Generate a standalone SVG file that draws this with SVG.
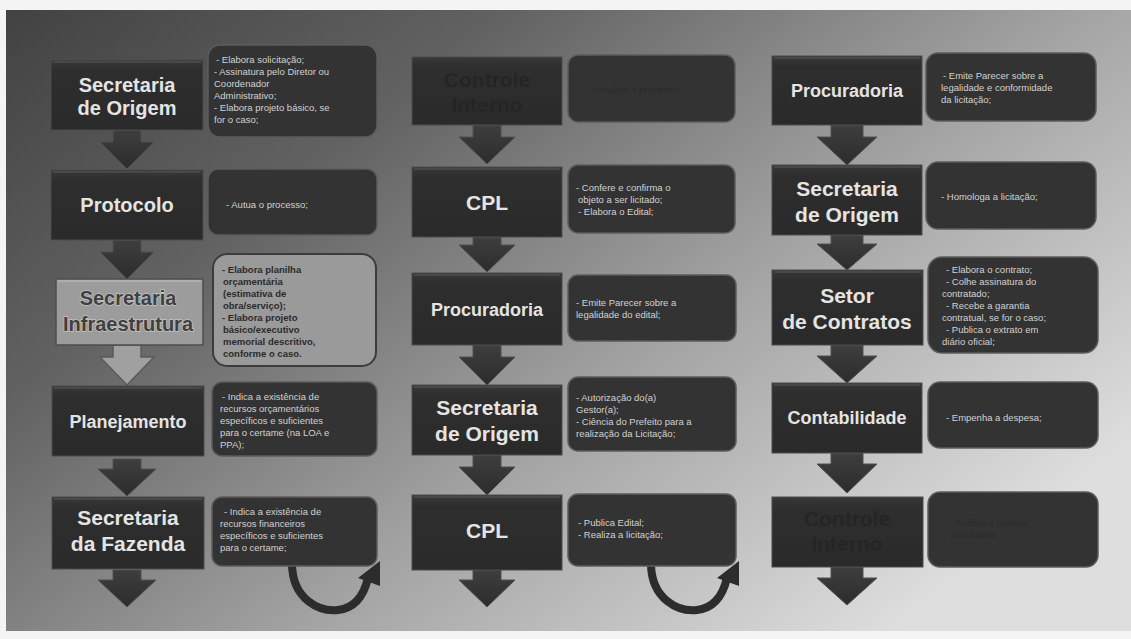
<svg xmlns="http://www.w3.org/2000/svg" width="1131" height="639" viewBox="0 0 1131 639">
<defs>
<linearGradient id="bg" x1="0" y1="0" x2="1" y2="0.7">
<stop offset="0" stop-color="#424242"/>
<stop offset="0.3" stop-color="#626262"/>
<stop offset="0.65" stop-color="#a4a4a4"/>
<stop offset="1" stop-color="#dedede"/>
</linearGradient>
<linearGradient id="lbl" x1="0" y1="0" x2="0" y2="1">
<stop offset="0" stop-color="#383838"/>
<stop offset="0.15" stop-color="#2e2e2e"/>
<stop offset="1" stop-color="#2a2a2a"/>
</linearGradient>
<linearGradient id="arw" x1="0" y1="0" x2="0" y2="1">
<stop offset="0" stop-color="#3e3e3e"/>
<stop offset="1" stop-color="#2c2c2c"/>
</linearGradient>
<style>
.lbl{fill:url(#lbl);stroke:#4c4c4c;stroke-width:1}
.hl{stroke:#5a5a5a;stroke-width:1}
.desc{fill:#333;stroke:#5c5c5c;stroke-width:1.5}
.lt{font-family:"Liberation Sans",Arial,sans-serif;font-weight:bold;fill:#e4e4e4;text-anchor:middle}
.dk{font-family:"Liberation Sans",Arial,sans-serif;font-weight:bold;fill:#252525;text-anchor:middle}
.dt{font-family:"Liberation Sans",Arial,sans-serif;font-size:9.5px;fill:#d2d2d2}
.dd{font-family:"Liberation Sans",Arial,sans-serif;font-size:9.5px;fill:#2a2a2a}
.infra{font-family:"Liberation Sans",Arial,sans-serif;font-weight:bold;font-size:20px;fill:#404040;text-anchor:middle;stroke:#c4c4c4;stroke-width:1.5;paint-order:stroke}
.it{font-family:"Liberation Sans",Arial,sans-serif;font-weight:bold;font-size:9.5px;fill:#2a2a2a}
.arrow{fill:url(#arw);stroke:#505050;stroke-width:1}
.curve{fill:none;stroke:#2c2c2c;stroke-width:8;stroke-linecap:butt}
</style>
</defs>
<rect x="0" y="0" width="1131" height="639" fill="#f4f4f4"/>
<rect x="6" y="10" width="1125" height="621" fill="url(#bg)"/>

<g id="connectors">
<!-- column 1 -->
<polygon class="arrow" points="113,130 141,130 141,142 154,142 127,169 100,142 113,142"/>
<polygon class="arrow" points="113,240 141,240 141,252 154,252 127,279 100,252 113,252"/>
<polygon points="113,345 141,345 141,357 154,357 127,385 100,357 113,357" fill="#a0a0a0" stroke="#5a5a5a" stroke-width="1.5"/>
<polygon class="arrow" points="113,459 141,459 141,469 156,469 127,496 98,469 113,469"/>
<polygon class="arrow" points="113,570 141,570 141,580 156,580 127,607 98,580 113,580"/>
<!-- column 2 -->
<polygon class="arrow" points="473,125 501,125 501,137 515,137 487,164 459,137 473,137"/>
<polygon class="arrow" points="473,237 501,237 501,245 515,245 487,272 459,245 473,245"/>
<polygon class="arrow" points="473,345 501,345 501,357 515,357 487,385 459,357 473,357"/>
<polygon class="arrow" points="473,455 501,455 501,467 515,467 487,495 459,467 473,467"/>
<polygon class="arrow" points="473,570 501,570 501,580 515,580 487,607 459,580 473,580"/>
<!-- column 3 -->
<polygon class="arrow" points="831,125 863,125 863,137 877,137 847,165 817,137 831,137"/>
<polygon class="arrow" points="831,235 863,235 863,244 877,244 847,270 817,244 831,244"/>
<polygon class="arrow" points="831,345 863,345 863,356 877,356 847,383 817,356 831,356"/>
<polygon class="arrow" points="831,453 863,453 863,464 877,464 847,493 817,464 831,464"/>
<polygon class="arrow" points="831,567 863,567 863,578 877,578 847,605 817,578 831,578"/>
<!-- curved return arrows -->
<path class="curve" d="M292,563 C292,600 320,612 338,610 C355,608 364,595 368,578"/>
<polygon points="358,578 380,561 380,586" fill="#2c2c2c"/>
<path class="curve" d="M651,563 C651,600 679,612 697,610 C714,608 723,595 727,578"/>
<polygon points="717,578 739,561 739,586" fill="#2c2c2c"/>
</g>

<!-- Column 1 -->
<g id="c1-secretaria-origem">
<rect class="lbl" x="51" y="60" width="152" height="70"/>
<line class="hl" x1="53" y1="62" x2="201" y2="62"/>
<text class="lt" font-size="20" x="127" y="92">Secretaria</text>
<text class="lt" font-size="20" x="127" y="115">de Origem</text>
<rect class="desc" x="208" y="45" width="169" height="92" rx="12"/>
<text class="dt" x="216" y="63">- Elabora solicitação;</text>
<text class="dt" x="214" y="75">- Assinatura pelo Diretor ou</text>
<text class="dt" x="214" y="87">Coordenador</text>
<text class="dt" x="214" y="99">Administrativo;</text>
<text class="dt" x="214" y="111">- Elabora projeto básico, se</text>
<text class="dt" x="214" y="123">for o caso;</text>
</g>

<g id="c1-protocolo">
<rect class="lbl" x="51" y="170" width="152" height="70"/>
<line class="hl" x1="53" y1="172" x2="201" y2="172"/>
<text class="lt" font-size="20" x="127" y="212">Protocolo</text>
<rect class="desc" x="208" y="169" width="169" height="66" rx="10"/>
<text class="dt" x="226" y="208">- Autua o processo;</text>
</g>

<g id="c1-secretaria-infraestrutura">
<rect x="56" y="279" width="147" height="66" fill="#9c9c9c" stroke="#4e4e4e" stroke-width="1.5"/>
<line x1="58" y1="281" x2="201" y2="281" stroke="#c0c0c0" stroke-width="1"/>
<text class="infra" x="128" y="305">Secretaria</text>
<text class="infra" x="128" y="331">Infraestrutura</text>
<rect x="213" y="254" width="163" height="112" rx="14" fill="#9a9a9a" stroke="#3c3c3c" stroke-width="2"/>
<text class="it" x="222" y="273">- Elabora planilha</text>
<text class="it" x="223" y="285">orçamentária</text>
<text class="it" x="223" y="297">(estimativa de</text>
<text class="it" x="223" y="309">obra/serviço);</text>
<text class="it" x="222" y="321">- Elabora projeto</text>
<text class="it" x="223" y="333">básico/executivo</text>
<text class="it" x="223" y="345">memorial descritivo,</text>
<text class="it" x="223" y="357">conforme o caso.</text>
</g>

<g id="c1-planejamento">
<rect class="lbl" x="52" y="386" width="152" height="70"/>
<line class="hl" x1="54" y1="388" x2="202" y2="388"/>
<text class="lt" font-size="18" x="128" y="428">Planejamento</text>
<rect class="desc" x="212" y="382" width="165" height="74" rx="10"/>
<text class="dt" x="222" y="400">- Indica a existência  de</text>
<text class="dt" x="220" y="412">recursos orçamentários</text>
<text class="dt" x="220" y="424">específicos e suficientes</text>
<text class="dt" x="220" y="436">para o certame (na LOA e</text>
<text class="dt" x="220" y="448">PPA);</text>
</g>

<g id="c1-secretaria-fazenda">
<rect class="lbl" x="52" y="497" width="152" height="72"/>
<line class="hl" x1="54" y1="499" x2="202" y2="499"/>
<text class="lt" font-size="21" x="128" y="525">Secretaria</text>
<text class="lt" font-size="21" x="128" y="551">da Fazenda</text>
<rect class="desc" x="212" y="497" width="165" height="69" rx="10"/>
<text class="dt" x="224" y="515">- Indica a existência  de</text>
<text class="dt" x="220" y="527">recursos financeiros</text>
<text class="dt" x="220" y="539">específicos e suficientes</text>
<text class="dt" x="220" y="551">para o certame;</text>
</g>

<!-- Column 2 -->
<g id="c2-controle-interno">
<rect class="lbl" x="412" y="57" width="150" height="68"/>
<text class="dk" font-size="21" x="487" y="87">Controle</text>
<text class="dk" font-size="21" x="487" y="112">Interno</text>
<rect class="desc" x="568" y="55" width="167" height="67" rx="10"/>
<text class="dd" x="592" y="93">- Analisa o processo;</text>
</g>

<g id="c2-cpl-1">
<rect class="lbl" x="412" y="167" width="150" height="70"/>
<line class="hl" x1="414" y1="169" x2="560" y2="169"/>
<text class="lt" font-size="21" x="487" y="210">CPL</text>
<rect class="desc" x="568" y="165" width="167" height="68" rx="10"/>
<text class="dt" x="576" y="191">- Confere e confirma o</text>
<text class="dt" x="578" y="203">objeto a ser licitado;</text>
<text class="dt" x="578" y="215">- Elabora o Edital;</text>
</g>

<g id="c2-procuradoria">
<rect class="lbl" x="412" y="273" width="150" height="72"/>
<line class="hl" x1="414" y1="275" x2="560" y2="275"/>
<text class="lt" font-size="18" x="487" y="316">Procuradoria</text>
<rect class="desc" x="568" y="275" width="168" height="66" rx="10"/>
<text class="dt" x="576" y="306">- Emite Parecer sobre a</text>
<text class="dt" x="576" y="318">legalidade do edital;</text>
</g>

<g id="c2-secretaria-origem">
<rect class="lbl" x="412" y="385" width="150" height="70"/>
<line class="hl" x1="414" y1="387" x2="560" y2="387"/>
<text class="lt" font-size="21" x="487" y="415">Secretaria</text>
<text class="lt" font-size="21" x="487" y="441">de Origem</text>
<rect class="desc" x="568" y="377" width="168" height="74" rx="10"/>
<text class="dt" x="576" y="401">- Autorização do(a)</text>
<text class="dt" x="576" y="413">Gestor(a);</text>
<text class="dt" x="576" y="425">- Ciência do Prefeito para a</text>
<text class="dt" x="576" y="437">realização da Licitação;</text>
</g>

<g id="c2-cpl-2">
<rect class="lbl" x="412" y="495" width="150" height="75"/>
<line class="hl" x1="414" y1="497" x2="560" y2="497"/>
<text class="lt" font-size="21" x="487" y="538">CPL</text>
<rect class="desc" x="568" y="494" width="168" height="72" rx="10"/>
<text class="dt" x="578" y="526">- Publica Edital;</text>
<text class="dt" x="578" y="538">- Realiza a licitação;</text>
</g>

<!-- Column 3 -->
<g id="c3-procuradoria">
<rect class="lbl" x="772" y="56" width="150" height="69"/>
<line class="hl" x1="774" y1="58" x2="920" y2="58"/>
<text class="lt" font-size="18" x="847" y="97">Procuradoria</text>
<rect class="desc" x="926" y="53" width="170" height="68" rx="12"/>
<text class="dt" x="943" y="79">- Emite Parecer sobre a</text>
<text class="dt" x="941" y="91">legalidade e conformidade</text>
<text class="dt" x="941" y="103">da licitação;</text>
</g>

<g id="c3-secretaria-origem">
<rect class="lbl" x="772" y="165" width="150" height="70"/>
<line class="hl" x1="774" y1="167" x2="920" y2="167"/>
<text class="lt" font-size="21" x="847" y="196">Secretaria</text>
<text class="lt" font-size="21" x="847" y="222">de Origem</text>
<rect class="desc" x="926" y="162" width="170" height="67" rx="12"/>
<text class="dt" x="941" y="200">- Homologa a licitação;</text>
</g>

<g id="c3-setor-contratos">
<rect class="lbl" x="772" y="270" width="151" height="75"/>
<line class="hl" x1="774" y1="272" x2="921" y2="272"/>
<text class="lt" font-size="21" x="847" y="303">Setor</text>
<text class="lt" font-size="21" x="847" y="329">de Contratos</text>
<rect class="desc" x="928" y="257" width="170" height="96" rx="14"/>
<text class="dt" x="946" y="273">- Elabora o contrato;</text>
<text class="dt" x="946" y="285">- Colhe assinatura do</text>
<text class="dt" x="942" y="297">contratado;</text>
<text class="dt" x="946" y="309">- Recebe a garantia</text>
<text class="dt" x="942" y="321">contratual, se for o caso;</text>
<text class="dt" x="946" y="333">- Publica o extrato em</text>
<text class="dt" x="942" y="345">diário oficial;</text>
</g>

<g id="c3-contabilidade">
<rect class="lbl" x="772" y="383" width="150" height="70"/>
<line class="hl" x1="774" y1="385" x2="920" y2="385"/>
<text class="lt" font-size="18" x="847" y="424">Contabilidade</text>
<rect class="desc" x="928" y="382" width="170" height="66" rx="12"/>
<text class="dt" x="946" y="421">- Empenha a despesa;</text>
</g>

<g id="c3-controle-interno">
<rect class="lbl" x="772" y="497" width="151" height="70"/>
<text class="dk" font-size="21" x="847" y="526">Controle</text>
<text class="dk" font-size="21" x="847" y="551">Interno</text>
<rect class="desc" x="928" y="492" width="170" height="75" rx="12"/>
<text class="dd" x="950" y="526">- Análise e parecer</text>
<text class="dd" x="950" y="538">conclusivo;</text>
</g>
</svg>
